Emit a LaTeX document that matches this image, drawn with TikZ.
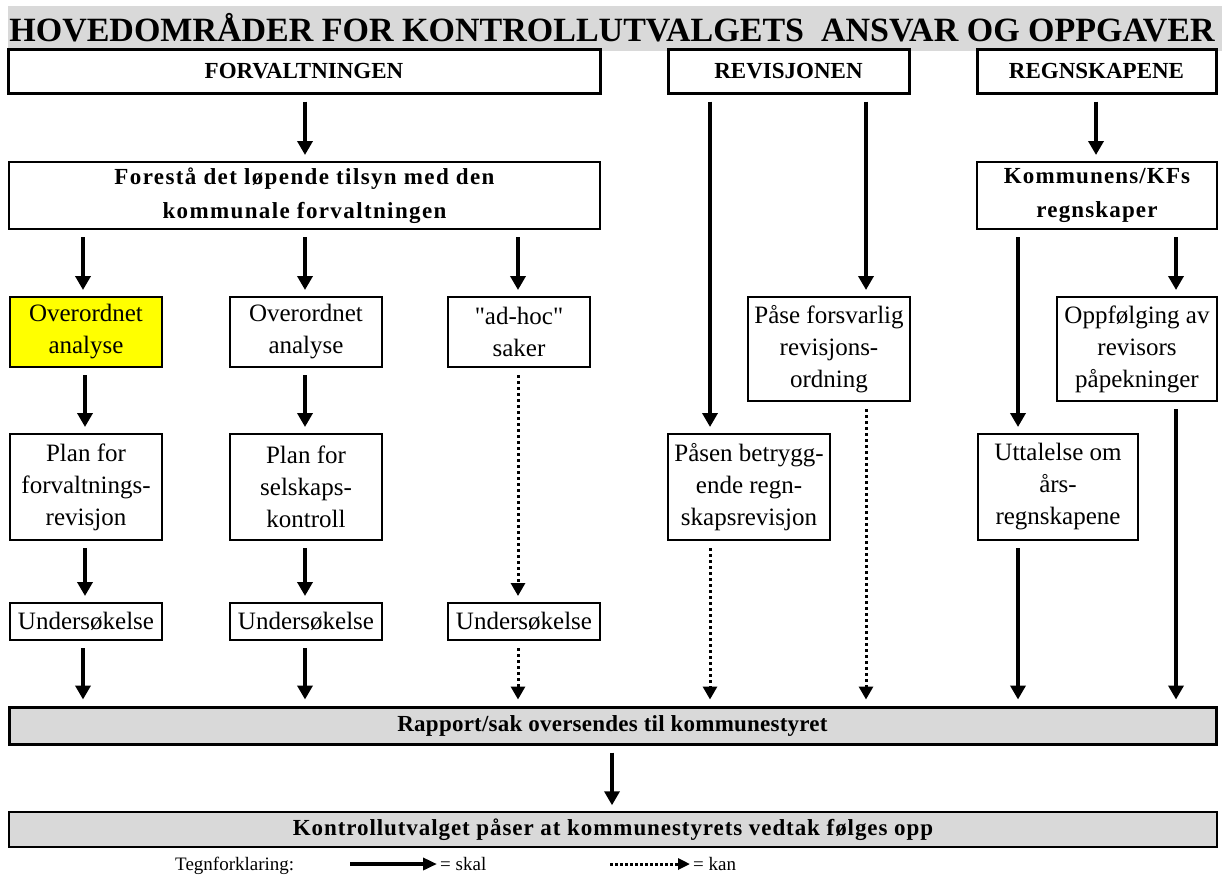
\documentclass[tikz,border=0pt]{standalone}
\usepackage{fontspec}
\setmainfont{Liberation Serif}[Ligatures=TeXOff]
\usetikzlibrary{arrows.meta}
\definecolor{band}{RGB}{217,217,217}
\definecolor{hl}{RGB}{255,255,0}
\begin{document}
\begin{tikzpicture}[x=1pt,y=-1pt,
  bx/.style={draw, line width=2pt, fill=white, inner sep=0pt, align=center, font=\fontsize{25}{32}\selectfont},
  hbx/.style={draw, line width=3pt, fill=white, inner sep=0pt, align=center, font=\bfseries\fontsize{23}{34}\selectfont},
  mbx/.style={draw, line width=2pt, fill=white, inner sep=0pt, align=center, font=\bfseries\fontsize{23}{34}\selectfont},
  arr/.style={line width=4pt, -{Triangle[width=15pt,length=14pt]}, shorten <=7pt, shorten >=6pt},
  dotarr/.style={line width=3pt, dash pattern=on 3pt off 3pt, -{Triangle[width=14pt,length=13pt]}, shorten <=7pt, shorten >=6pt},
  legtext/.style={font=\fontsize{19}{24}\selectfont, anchor=base west, inner sep=0pt}]
\useasboundingbox (0,0) rectangle (1222,878);
\fill[band] (8,6) rectangle (1222,51);
\node[font=\bfseries\fontsize{34}{36}\selectfont, anchor=base, inner sep=0pt] (title) at (612,41) {HOVEDOMRÅDER FOR KONTROLLUTVALGETS\ \ ANSVAR OG OPPGAVER};

% headings
\node[hbx, minimum width=592pt, minimum height=44pt] (forv) at (304,71) {FORVALTNINGEN};
\node[hbx, minimum width=241pt, minimum height=44pt] (rev) at (788.5,71) {REVISJONEN};
\node[hbx, minimum width=239pt, minimum height=44pt] (reg) at (1096.5,71) {REGNSKAPENE};

% second level
\node[mbx, minimum width=591pt, minimum height=67pt] (forest) at (304.5,195.5) {\addfontfeatures{LetterSpace=6}Forestå det løpende tilsyn med den\\\addfontfeatures{LetterSpace=6}kommunale forvaltningen};
\node[mbx, minimum width=240pt, minimum height=67pt] (komm) at (1097,195.5) {\addfontfeatures{LetterSpace=5}Kommunens/KFs\\\addfontfeatures{LetterSpace=5}regnskaper};

% row 1
\node[bx, fill=hl, minimum width=152pt, minimum height=70pt] (oa1) at (86,332) {Overordnet\\analyse};
\node[bx, minimum width=152pt, minimum height=70pt] (oa2) at (306,332) {Overordnet\\analyse};
\node[bx, minimum width=142pt, minimum height=70pt] (adhoc) at (519,332) {"ad-hoc"\\saker};
\node[bx, minimum width=162pt, minimum height=104pt] (pase) at (829,349) {Påse forsvarlig\\revisjons-\\ordning};
\node[bx, minimum width=160pt, minimum height=104pt] (oppf) at (1137,349) {Oppfølging av\\revisors\\påpekninger};

% row 2
\node[bx, minimum width=152pt, minimum height=106pt] (plan1) at (86,487) {Plan for\\forvaltnings-\\revisjon};
\node[bx, minimum width=152pt, minimum height=106pt] (plan2) at (306,487) {Plan for\\selskaps-\\kontroll};
\node[bx, minimum width=162pt, minimum height=106pt] (pasen) at (749,487) {Påsen betrygg-\\ende regn-\\skapsrevisjon};
\node[bx, minimum width=160pt, minimum height=106pt] (utt) at (1058,487) {Uttalelse om\\års-\\regnskapene};

% row 3
\node[bx, minimum width=152pt, minimum height=37pt] (und1) at (86,621.5) {Undersøkelse};
\node[bx, minimum width=152pt, minimum height=37pt] (und2) at (306,621.5) {Undersøkelse};
\node[bx, minimum width=152pt, minimum height=37pt] (und3) at (524,621.5) {Undersøkelse};

% bottom
\node[hbx, fill=band, minimum width=1207pt, minimum height=37pt] (rapp) at (612.5,725.5) {\addfontfeatures{LetterSpace=1}Rapport/sak oversendes til kommunestyret};
\node[mbx, line width=1.5pt, fill=band, minimum width=1208pt, minimum height=35pt] (kontr) at (613,829.5) {\addfontfeatures{LetterSpace=4}Kontrollutvalget påser at kommunestyrets vedtak følges opp};

% arrow columns
\coordinate (x1) at (83,0);
\coordinate (x1b) at (85,0);
\coordinate (x2) at (305,0);
\coordinate (x3) at (518,0);
\coordinate (x4) at (710,0);
\coordinate (x5) at (866,0);
\coordinate (x6) at (1018,0);
\coordinate (x7) at (1176,0);
\coordinate (x8) at (1096,0);
\coordinate (x9) at (612,0);

\draw[arr] (forv.south -| x2) -- (forest.north -| x2);
\draw[arr] (reg.south -| x8) -- (komm.north -| x8);
\draw[arr] (rev.south -| x4) -- (pasen.north -| x4);
\draw[arr] (rev.south -| x5) -- (pase.north -| x5);

\draw[arr] (forest.south -| x1) -- (oa1.north -| x1);
\draw[arr] (forest.south -| x2) -- (oa2.north -| x2);
\draw[arr] (forest.south -| x3) -- (adhoc.north -| x3);
\draw[arr] (komm.south -| x6) -- (utt.north -| x6);
\draw[arr] (komm.south -| x7) -- (oppf.north -| x7);

\draw[arr] (oa1.south -| x1b) -- (plan1.north -| x1b);
\draw[arr] (oa2.south -| x2) -- (plan2.north -| x2);
\draw[dotarr] (adhoc.south -| x3) -- (und3.north -| x3);

\draw[arr] (plan1.south -| x1b) -- (und1.north -| x1b);
\draw[arr] (plan2.south -| x2) -- (und2.north -| x2);

\draw[arr] (und1.south -| x1) -- (rapp.north -| x1);
\draw[arr] (und2.south -| x2) -- (rapp.north -| x2);
\draw[dotarr] (und3.south -| x3) -- (rapp.north -| x3);
\draw[dotarr] (pasen.south -| x4) -- (rapp.north -| x4);
\draw[dotarr] (pase.south -| x5) -- (rapp.north -| x5);
\draw[arr] (utt.south -| x6) -- (rapp.north -| x6);
\draw[arr] (oppf.south -| x7) -- (rapp.north -| x7);

\draw[arr] (rapp.south -| x9) -- (kontr.north -| x9);

% legend
\node[legtext] (leg) at (175,870) {Tegnforklaring:};
\coordinate (ls1) at (350,864);
\coordinate (le1) at (437,864);
\coordinate (ls2) at (610,864);
\coordinate (le2) at (690,864);
\draw[line width=4pt, -{Triangle[width=12pt,length=14pt]}] (ls1) -- (le1);
\draw[line width=3pt, dash pattern=on 3pt off 2pt, -{Triangle[width=11pt,length=12pt]}] (ls2) -- (le2);
\node[legtext] (skal) at (440,870) {= skal};
\node[legtext] (kan) at (693,870) {= kan};
\end{tikzpicture}
\end{document}
